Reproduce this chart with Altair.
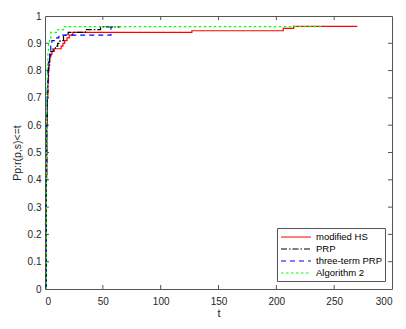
import altair as alt
import pandas as pd

series = ["modified HS", "PRP", "three-term PRP", "Algorithm 2"]
colors = ["#ff0000", "#000000", "#0000ff", "#00ff00"]
dashes = [[1, 0], [6, 2, 1.5, 2], [5, 4], [2.5, 2.5]]
widths = [1.2, 1.2, 1.3, 2.6]

hs_t = [1, 1.2, 1.5, 2, 2.5, 3, 3.5, 4, 5, 6, 8, 14, 15.5, 17, 19, 21, 24, 127, 206, 215, 270]
hs_v = [0, 0.40, 0.60, 0.70, 0.76, 0.80, 0.83, 0.85, 0.86, 0.87, 0.88, 0.89, 0.90, 0.91, 0.92, 0.93, 0.94, 0.946, 0.955, 0.962, 0.962]

prp_t = [1, 1.2, 1.5, 2, 2.5, 3, 4, 5, 7, 9, 11, 13, 16, 20, 35, 48, 65]
prp_v = [0, 0.42, 0.62, 0.72, 0.78, 0.82, 0.85, 0.87, 0.88, 0.89, 0.90, 0.91, 0.93, 0.94, 0.95, 0.96, 0.96]

tt_t = [1, 1.2, 1.5, 2, 2.5, 3, 4, 5, 6, 8, 12, 57, 62]
tt_v = [0, 0.45, 0.65, 0.75, 0.80, 0.84, 0.87, 0.89, 0.91, 0.92, 0.93, 0.96, 0.96]

alg_t = [1, 1.2, 1.5, 2, 2.5, 3, 4, 5, 11, 16, 240]
alg_v = [0, 0.50, 0.72, 0.82, 0.87, 0.90, 0.92, 0.94, 0.95, 0.961, 0.961]

x_ticks = [0, 50, 100, 150, 200, 250, 300]
y_ticks = [0, 0.1, 0.2, 0.3, 0.4, 0.5, 0.6, 0.7, 0.8, 0.9, 1]

rows = []
for k, (name, ts, vs) in enumerate(zip(series, [hs_t, prp_t, tt_t, alg_t], [hs_v, prp_v, tt_v, alg_v])):
    for t, v in zip(ts, vs):
        rows.append({"series": name, "t": t, "p": v, "k": k})
df = pd.DataFrame(rows)

W, H = 347, 273
FONT = "Liberation Sans"
AX = "#555555"
TXT = "#262626"

xs = alt.Scale(domain=[0, 300], nice=False)
ys = alt.Scale(domain=[0, 1], nice=False)

x_axis = alt.Axis(values=x_ticks, tickSize=4, tickOpacity=0, domain=False,
                  labelPadding=3, titlePadding=1, titleFontSize=11)
y_axis = alt.Axis(values=y_ticks, format="~g", tickSize=4, tickOpacity=0,
                  domain=False, labelPadding=0, titlePadding=5, titleFontSize=10.5)

leg = alt.Legend(
    title=None, orient="none", legendX=232, legendY=212,
    symbolType="M-1,0H5", symbolSize=100,
    labelFont=FONT, labelFontSize=9.5, labelColor="#000000",
    fillColor="white", strokeColor="#555555", padding=3,
    rowPadding=1, labelOffset=24,
)

lines = alt.Chart(df).mark_line(interpolate="step-after", clip=True).encode(
    x=alt.X("t:Q", scale=xs, title="t", axis=x_axis),
    y=alt.Y("p:Q", scale=ys, title="Pp:r(p,s)<=t", axis=y_axis),
    color=alt.Color("series:N", scale=alt.Scale(domain=series, range=colors), legend=leg),
    strokeDash=alt.StrokeDash("series:N", scale=alt.Scale(domain=series, range=dashes), legend=leg),
    strokeWidth=alt.StrokeWidth("series:N", scale=alt.Scale(domain=series, range=widths), legend=leg),
    order=alt.Order("k:Q"),
)

xt = pd.DataFrame({"t": x_ticks[1:-1]})
yt = pd.DataFrame({"p": y_ticks[1:-1]})

bt = alt.Chart(xt).mark_rule(color=AX, strokeWidth=1).encode(
    x=alt.X("t:Q", scale=xs, title="t", axis=x_axis), y=alt.value(H), y2=alt.value(H - 4))
tt = alt.Chart(xt).mark_rule(color=AX, strokeWidth=1).encode(
    x=alt.X("t:Q", scale=xs, title="t", axis=x_axis), y=alt.value(0), y2=alt.value(4))
lt = alt.Chart(yt).mark_rule(color=AX, strokeWidth=1).encode(
    y=alt.Y("p:Q", scale=ys, title="Pp:r(p,s)<=t", axis=y_axis), x=alt.value(0), x2=alt.value(4))
rt = alt.Chart(yt).mark_rule(color=AX, strokeWidth=1).encode(
    y=alt.Y("p:Q", scale=ys, title="Pp:r(p,s)<=t", axis=y_axis), x=alt.value(W), x2=alt.value(W - 4))

chart = alt.layer(bt, tt, lt, rt, lines).properties(
    width=W, height=H,
    autosize=alt.AutoSizeParams(type="none"),
    padding={"left": 37, "top": 8, "right": 6, "bottom": 32},
    background="white",
).configure_view(
    stroke=AX, strokeWidth=1
).configure_axis(
    labelFont=FONT, titleFont=FONT, labelFontSize=10, labelColor=TXT, titleColor=TXT,
    titleFontWeight="normal", grid=False
)

chart.save("out.html", embed_options={"renderer": "svg", "actions": False})
